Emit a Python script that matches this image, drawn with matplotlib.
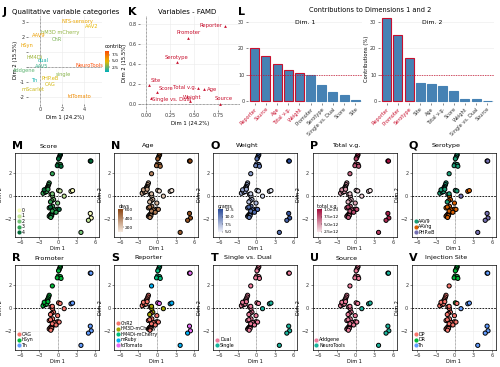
import matplotlib.pyplot as plt
import numpy as np
from matplotlib.colors import LinearSegmentedColormap, Normalize
from matplotlib.lines import Line2D

# ---- panel J: category coordinates
j_labels = ["NTS-sensory", "AAV2", "hM3D mCherry", "AAV9", "ChR", "hSyn", "hM4Di",
            "dual", "AAV5", "Addgene", "NeuroTools", "Th", "PHP.eB", "single",
            "CAG", "mScarlet", "tdTomato"]
j_x = [3.4, 4.7, 1.8, -0.1, 1.5, -1.2, -0.5, 0.3, 0.1, -1.4, 4.5, -0.5, 0.9, 2.1, 0.9, -0.6, 3.6]
j_y = [3.0, 2.7, 2.3, 2.1, 1.8, 1.4, 0.65, 0.4, 0.05, -0.25, 0.13, -0.9, -0.75, -0.5, -1.15, -1.5, -2.0]
j_contrib = [5.5, 4.8, 3.2, 5.8, 2.8, 5.6, 3.4, 1.0, 1.6, 2.2, 9.0, 0.8, 4.5, 3.0, 4.4, 4.2, 6.5]

# ---- panel K: variables
k_vars = ["Reporter", "Promoter", "Serotype", "Age", "Total v.g.", "Score",
          "Single vs. Dual", "Weight", "Source", "Site"]
k_x = [0.82, 0.44, 0.32, 0.60, 0.54, 0.11, 0.05, 0.46, 0.77, 0.03]
k_y = [0.78, 0.66, 0.42, 0.15, 0.16, 0.12, 0.06, 0.03, 0.00, 0.19]

# ---- panel L: contributions
dim1_names = ["Reporter", "Source", "Age", "Total v.g.", "Weight", "Promoter",
              "Serotype", "Single vs. Dual", "Score", "Site"]
dim1_vals = [20.3, 17.2, 14.0, 11.7, 10.8, 10.0, 6.2, 3.4, 2.6, 0.4]
dim2_names = ["Reporter", "Promoter", "Serotype", "Site", "Age", "Total v.g.",
              "Score", "Weight", "Single vs. Dual", "Source"]
dim2_vals = [31.5, 25.0, 16.5, 7.0, 6.5, 5.7, 3.8, 0.9, 0.8, 0.2]
dim1_hi = 5
dim2_hi = 3

# ---- individuals (panels M-V)
DIM1 = [0.40, 0.30, 0.20, 0.10, 0.05, 0.40, -0.10, 0.50, -0.90,
        -1.40, -1.50, -1.60, -1.70, -1.80, -1.90, -2.00, -2.10, -2.20, -2.30, -2.40, -2.00, -1.80, -2.20, -1.60,
        -1.10, -0.85, -0.90,
        0.10, 0.35,
        2.10, 2.35, 1.00,
        -0.70, -1.00, -1.20, -0.05,
        -0.85, -1.40, -1.20, -1.40, -1.25, -1.10, -0.95, -0.85, -0.70, -0.60, -0.45, -0.30, -0.15, -0.05,
        0.20, -0.60, -0.90, -0.30, -1.00, -1.15,
        5.20, 5.30, 5.20, 5.35, 4.90, 3.70]
DIM2 = [3.55, 3.45, 3.30, 3.20, 2.75, 2.70, 2.60, 2.55, 1.90,
        1.10, 0.95, 0.80, 0.70, 0.60, 0.50, 0.45, 0.40, 0.30, 0.25, 0.20, 0.30, 0.35, 0.50, 0.55,
        0.10, -0.05, 0.15,
        0.45, 0.40,
        0.37, 0.43, -0.05,
        -0.35, -0.45, -0.55, -0.65,
        -0.93, -1.07, -1.00, -1.80, -1.70, -1.62, -1.55, -1.50, -1.42, -1.38, -1.32, -1.28, -1.22, -1.18,
        -1.20, -1.25, -1.35, -1.45, -1.75, -1.90,
        3.00, 3.00, -1.55, -1.95, -2.15, -3.20]

SCORE = ("444433443" "333334433333343" "222" "11" "001" "2232"
         "33433343334333433343" "440012")
AGE = [560, 560, 540, 540, 520, 500, 480, 480, 420,
       300, 320, 300, 280, 300, 320, 300, 280, 300, 320, 300, 280, 300, 320, 300,
       200, 220, 240, 150, 150, 120, 120, 180, 250, 260, 240, 260,
       400, 420, 440, 400, 420, 440, 400, 420, 440, 400, 420, 440, 400, 420,
       440, 400, 420, 440, 400, 420,
       600, 600, 580, 580, 560, 540]
WEIGHT = [11.5, 11.5, 11, 11, 10.5, 10.5, 10, 10, 9,
          8, 8.5, 8, 7.5, 8, 8.5, 8, 7.5, 8, 8.5, 8, 7.5, 8, 8.5, 8,
          7, 7, 6.5, 6, 6, 5.5, 5.5, 6, 7, 7.5, 7, 7.5,
          10, 10.5, 11, 10, 10.5, 11, 10, 10.5, 11, 10, 10.5, 11, 10, 10.5,
          11, 10, 10.5, 11, 10, 10.5,
          12.5, 12.5, 12, 12, 11.5, 11]
TOTAL_VG = [9, 9, 8.5, 8.5, 8, 8, 7.5, 7.5, 7,
            5, 5.5, 5, 4.5, 5, 5.5, 5, 4.5, 5, 5.5, 5, 4.5, 5, 5.5, 5,
            4, 4, 3.5, 3, 3, 2.5, 2.5, 3, 4, 4.5, 4, 4.5,
            7, 7.5, 8, 7, 7.5, 8, 7, 7.5, 8, 7, 7.5, 8, 7, 7.5,
            8, 7, 7.5, 8, 7, 7.5,
            10, 10, 9.5, 9.5, 9, 8.5]  # x 1e12
SEROTYPE = ("000000000" "000000000000000" "010" "00" "112" "1101"
            "11111111111111111111" "222222")
PROMOTER = ("111111111" "111111111111111" "000" "00" "220" "0000"
            "00000000000000000000" "222222")
REPORTER = ("222222223" "000000000000000" "011" "44" "331" "1010"
            "00000000000000000000" "444433")
SINGLE_DUAL = ("000000000" "000000000000000" "000" "00" "111" "0000"
               "00000000000000000000" "001111")
SOURCE = ("000000000" "000000000000000" "000" "00" "111" "0000"
          "00000000000000000000" "111111")
SITE = ("111111110" "000000000000000" "000" "10" "222" "0000"
        "00000000000000000000" "222222")

W, H = 500, 367
fig = plt.figure(figsize=(5, 3.67), dpi=100)


def add_px(x0, y0, x1, y1):
    return fig.add_axes([x0 / W, 1 - y1 / H, (x1 - x0) / W, (y1 - y0) / H])


def style(ax, fs=3.6):
    ax.tick_params(labelsize=fs, length=1.5, width=0.4, pad=1, colors='#333333')
    ax.grid(color='#ebebeb', lw=0.4)
    ax.set_axisbelow(True)


def ftext(x, y, s, **kw):
    fig.text(x / W, 1 - y / H, s, **kw)


# ---------------- J
grad3 = LinearSegmentedColormap.from_list('c3', ['#00AFBB', '#E7B800', '#FC4E07'])
norm = Normalize(0.5, 9.0)
axj = add_px(28, 16, 102, 104)
style(axj)
for s in axj.spines.values():
    s.set_visible(False)
axj.set_xlim(-1.09, 5.6)
axj.set_ylim(-2.47, 3.4)
axj.set_xticks([0, 2, 4])
axj.set_yticks([-2, -1, 0, 1, 2, 3])
axj.set_yticklabels(["-2", "-1", "", "", "2", "3"])
axj.axhline(0, color='#555555', ls=(0, (1, 1)), lw=0.5)
axj.axvline(0, color='#555555', ls=(0, (1, 1)), lw=0.5)
for lab, x, y, c in zip(j_labels, j_x, j_y, j_contrib):
    axj.text(x, y, lab, color=grad3(norm(c)), fontsize=3.7, ha='center', va='center', clip_on=False)
axj.set_xlabel("Dim 1 (24.2%)", fontsize=3.8, labelpad=2)
axj.set_ylabel("Dim 2 (15.5%)", fontsize=3.8, labelpad=1)
ftext(3, 12, "J", fontsize=8, fontweight='bold', va='center')
ftext(66, 12, "Qualitative variable categories", fontsize=5.0, va='center', ha='center')
cax = add_px(105, 51, 109, 72)
cax.imshow(np.linspace(0.5, 9, 50).reshape(-1, 1), cmap=grad3, aspect='auto', origin='lower',
           extent=[0, 1, 0.5, 9])
cax.set_xticks([])
cax.yaxis.tick_right()
cax.set_yticks([2.5, 5.0, 7.5])
cax.tick_params(labelsize=3.2, length=1, width=0.3, pad=0.8)
for s in cax.spines.values():
    s.set_visible(False)
ftext(105, 47, "contrib", fontsize=3.6, va='center')

# ---------------- K
red = '#C8102E'
axk = add_px(140, 16, 240, 110)
style(axk)
for s in axk.spines.values():
    s.set_visible(False)
axk.set_xlim(-0.0625, 0.979)
axk.set_ylim(-0.06, 0.88)
axk.set_xticks([0, 0.25, 0.5, 0.75])
axk.set_xticklabels(["0.00", "0.25", "0.50", "0.75"])
axk.set_yticks([0, 0.2, 0.4, 0.6, 0.8])
axk.set_yticklabels(["0.0", "0.2", "0.4", "0.6", "0.8"])
axk.axhline(0, color='#555555', ls=(0, (1, 1)), lw=0.5)
axk.axvline(0, color='#555555', ls=(0, (1, 1)), lw=0.5)
axk.scatter(k_x, k_y, marker='^', s=4, color=red, zorder=3, linewidths=0)
offs = {"Reporter": (-0.02, 0.0, 'right'), "Promoter": (0.0, 0.05, 'center'),
        "Serotype": (0.0, 0.05, 'center'), "Age": (0.03, 0.0, 'left'),
        "Total v.g.": (-0.02, 0.01, 'right'), "Score": (0.02, 0.03, 'left'),
        "Single vs. Dual": (0.01, -0.02, 'left'), "Weight": (0.02, 0.04, 'center'),
        "Source": (0.04, 0.05, 'center'), "Site": (0.02, 0.04, 'left')}
for v, x, y in zip(k_vars, k_x, k_y):
    dx, dy, ha = offs[v]
    axk.text(x + dx, y + dy, v, color=red, fontsize=3.8, ha=ha, va='center')
axk.set_xlabel("Dim 1 (24.2%)", fontsize=3.8, labelpad=2)
axk.set_ylabel("Dim 2 (15.5%)", fontsize=3.8, labelpad=1)
ftext(128, 12, "K", fontsize=8, fontweight='bold', va='center')
ftext(187, 12, "Variables - FAMD", fontsize=5.0, va='center', ha='center')

# ---------------- L
blue = '#4682B4'
for (x0, x1), names, vals, nhi, sub, sx in [((248, 362), dim1_names, dim1_vals, dim1_hi, "Dim. 1", 0.5),
                                            ((380, 494), dim2_names, dim2_vals, dim2_hi, "Dim. 2", 0.46)]:
    ax = add_px(x0, 15, x1, 103)
    ax.tick_params(labelsize=3.6, length=1.5, width=0.4, pad=1, colors='#333333')
    ax.grid(axis='y', color='#ebebeb', lw=0.4)
    ax.set_axisbelow(True)
    for s in ax.spines.values():
        s.set_visible(False)
    pos = np.arange(len(vals))
    edges = [red if i < nhi else blue for i in pos]
    ax.bar(pos, vals, width=0.8, color=blue, edgecolor=edges, linewidth=0.8)
    ax.axhline(10, color=red, ls=(0, (2, 1.5)), lw=0.5)
    ax.set_xlim(-0.6, len(vals) - 0.4)
    ax.set_ylim(-0.6, 32.6)
    ax.set_yticks([0, 10, 20, 30])
    ax.set_xticks(pos)
    ax.set_xticklabels(names, rotation=45, ha='right', rotation_mode='anchor', fontsize=3.6)
    for i, t in enumerate(ax.get_xticklabels()):
        t.set_color(red if i < nhi else '#333333')
    ax.text(sx, 0.91, sub, transform=ax.transAxes, fontsize=4.4, ha='center', va='center')
    if sub == "Dim. 2":
        ax.set_ylabel("Contributions (%)", fontsize=3.8, labelpad=1)
ftext(238, 12, "L", fontsize=8, fontweight='bold', va='center')
ftext(370, 10, "Contributions to Dimensions 1 and 2", fontsize=4.8, va='center', ha='center')


# ---------------- M-V
def ind_panel(col, row, letter, title):
    x0 = 15 + 99.2 * col
    y0, y1 = (153, 237) if row == 0 else (265, 350)
    ax = add_px(x0, y0, x0 + 84, y1)
    style(ax)
    ax.set_xlim(-6.9, 6.6)
    ax.set_ylim(-3.6, 3.7)
    ax.set_xticks([-6, -3, 0, 3, 6])
    ax.set_yticks([-2, 0, 2])
    ax.axhline(0, color='k', ls=(0, (2, 1.5)), lw=0.6)
    ax.axvline(0, color='#777777', ls=(0, (1, 1)), lw=0.5)
    for s in ax.spines.values():
        s.set_linewidth(0.5)
    ax.set_xlabel("Dim 1", fontsize=3.6, labelpad=0.5)
    ax.set_ylabel("Dim 2", fontsize=3.6, labelpad=0.5)
    ftext(x0 - 3, y0 - 7, letter, fontsize=8, fontweight='bold', va='center')
    ftext(x0 + 34, y0 - 7, title, fontsize=4.6, va='center', ha='center')
    return ax


def draw_points(ax, colors):
    ax.scatter(DIM1, DIM2, c=colors, s=9, edgecolors='k', linewidths=0.7, zorder=3)


def cat_legend(ax, labels, colors):
    hs = [Line2D([], [], marker='o', ls='', color=c, markersize=3, markeredgewidth=0) for c in colors]
    ax.legend(hs, labels, loc='lower left', fontsize=3.4, frameon=False, handlelength=0.6,
              handletextpad=0.3, labelspacing=0.1, borderpad=0.2, borderaxespad=0.3)


def grad_legend(ax, cmap, lo, hi, ticks, labels, title):
    c = ax.inset_axes([0.05, 0.06, 0.05, 0.27])
    c.imshow(np.linspace(lo, hi, 50).reshape(-1, 1), cmap=cmap, aspect='auto', origin='lower',
             extent=[0, 1, lo, hi])
    c.set_xticks([])
    c.yaxis.tick_right()
    c.set_yticks(ticks)
    c.set_yticklabels(labels)
    c.tick_params(labelsize=3.2, length=1, width=0.3, pad=0.8)
    for s in c.spines.values():
        s.set_visible(False)
    c.set_title(title, fontsize=3.4, pad=1, loc='left')


greens = ['#F7FCB9', '#C2E699', '#78C679', '#31A354', '#006837']
ax = ind_panel(0, 0, "M", "Score")
draw_points(ax, [greens[int(s)] for s in SCORE])
cat_legend(ax, ["0", "1", "2", "3", "4"], greens)

brown = LinearSegmentedColormap.from_list('br', ['#F6E8DC', '#8B4513'])
ax = ind_panel(1, 0, "N", "Age")
draw_points(ax, [brown((a - 100) / 500) for a in AGE])
grad_legend(ax, brown, 100, 600, [200, 400, 600], ["200", "400", "600"], "days")

blues = LinearSegmentedColormap.from_list('bl', ['#EEF0FA', '#2B4C9B'])
ax = ind_panel(2, 0, "O", "Weight")
draw_points(ax, [blues((w - 5) / 7.5) for w in WEIGHT])
grad_legend(ax, blues, 5, 12.5, [5, 7.5, 10, 12.5], ["5.0", "7.5", "10.0", "12.5"], "grams")

reds = LinearSegmentedColormap.from_list('rd', ['#F7E1E6', '#A3103F'])
ax = ind_panel(3, 0, "P", "Total v.g.")
draw_points(ax, [reds((v - 2.5) / 7.5) for v in TOTAL_VG])
grad_legend(ax, reds, 2.5, 10, [2.5, 5, 7.5, 10], ["2.5e12", "5.0e12", "7.5e12", "1.0e13"], "total v.g.")

sero_c = ['#1B9E77', '#D95F02', '#7570B3']
ax = ind_panel(4, 0, "Q", "Serotype")
draw_points(ax, [sero_c[int(s)] for s in SEROTYPE])
cat_legend(ax, ["AAV9", "AAVrg", "PHP.eB"], sero_c)

prom_c = ['#F8766D', '#00BA38', '#619CFF']
ax = ind_panel(0, 1, "R", "Promoter")
draw_points(ax, [prom_c[int(s)] for s in PROMOTER])
cat_legend(ax, ["CAG", "hSyn", "Th"], prom_c)

rep_c = ['#F8766D', '#A3A500', '#00BF7D', '#00B0F6', '#E76BF3']
ax = ind_panel(1, 1, "S", "Reporter")
draw_points(ax, [rep_c[int(s)] for s in REPORTER])
cat_legend(ax, ["ChR2", "hM3D-mCherry", "hM4Di-mCherry", "mRuby", "tdTomato"], rep_c)

two_c = ['#EE7C9C', '#19B39B']
ax = ind_panel(2, 1, "T", "Single vs. Dual")
draw_points(ax, [two_c[int(s)] for s in SINGLE_DUAL])
cat_legend(ax, ["Dual", "Single"], two_c)

ax = ind_panel(3, 1, "U", "Source")
draw_points(ax, [two_c[int(s)] for s in SOURCE])
cat_legend(ax, ["Addgene", "NeuroTools"], two_c)

site_c = ['#F8766D', '#00BA38', '#619CFF']
ax = ind_panel(4, 1, "V", "Injection Site")
draw_points(ax, [site_c[int(s)] for s in SITE])
cat_legend(ax, ["DP", "DR", "Th"], site_c)

fig.savefig("out.png", dpi=100)
